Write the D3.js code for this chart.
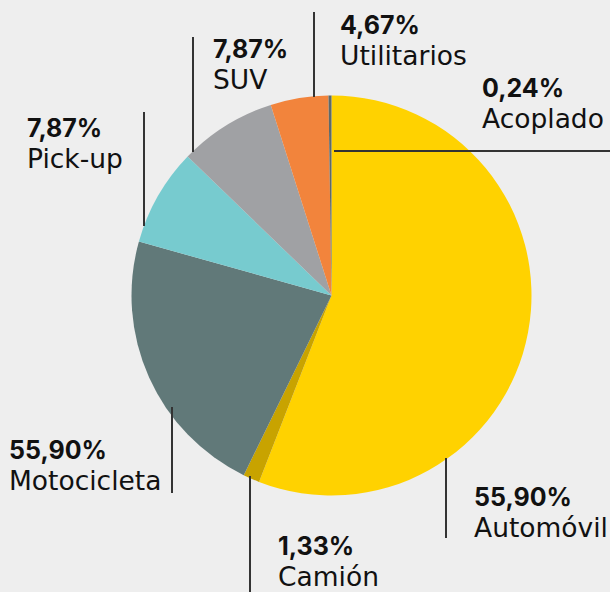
<!DOCTYPE html>
<html>
<head>
<meta charset="utf-8">
<script src="https://cdn.jsdelivr.net/npm/d3@7"></script>
<style>
  html, body { margin: 0; padding: 0; background: #eeeeee; }
  svg { display: block; }
  .pct { font-family: Inter, "Noto Sans", sans-serif; font-weight: 700; }
  .name { font-family: "DejaVu Sans", "Noto Sans", sans-serif; font-weight: 400; }
</style>
</head>
<body>
<svg id="chart" width="610" height="592"></svg>
<script>
// Vehicle categories, clockwise from 12 o'clock
const categories = ["Automóvil", "Camión", "Motocicleta", "Pick-up", "SUV", "Utilitarios", "Acoplado"];
const shares = [55.90, 1.33, 22.12, 7.87, 7.87, 4.67, 0.24];
const pctLabels = ["55,90%", "1,33%", "55,90%", "7,87%", "7,87%", "4,67%", "0,24%"];
const colors = ["#ffd200", "#c8a300", "#617979", "#77cbcf", "#a0a1a4", "#f2843c", "#5e6a6a"];

// Callout placement: leader line ends and text anchor (left x, first baseline)
const callouts = {
  "Automóvil":   { line: [[446, 458], [446, 538]], text: [474, 506] },
  "Camión":      { line: [[250, 476], [250, 592]], text: [278, 555] },
  "Motocicleta": { line: [[172, 407], [172, 493]], text: [9, 459] },
  "Pick-up":     { line: [[144, 112], [144, 226]], text: [27, 137] },
  "SUV":         { line: [[193, 37], [193, 152]], text: [213, 58] },
  "Utilitarios": { line: [[314, 12], [314, 97]], text: [340, 34] },
  "Acoplado":    { line: [[334, 151], [610, 151]], text: [482, 97] }
};

const cx = 331.5, cy = 295.5, radius = 200;
const svg = d3.select("#chart");

const data = categories.map((c, i) => ({ name: c, value: shares[i], label: pctLabels[i], color: colors[i] }));

const pie = d3.pie().sort(null).value(d => d.value).startAngle(0).endAngle(2 * Math.PI);
const arc = d3.arc().innerRadius(0).outerRadius(radius);

const g = svg.append("g").attr("transform", `translate(${cx},${cy})`);
g.selectAll("path.slice")
  .data(pie(data))
  .join("path")
  .attr("class", "slice")
  .attr("d", arc)
  .attr("fill", d => d.data.color);

// Leader lines
svg.append("g").selectAll("line")
  .data(data)
  .join("line")
  .attr("x1", d => callouts[d.name].line[0][0])
  .attr("y1", d => callouts[d.name].line[0][1])
  .attr("x2", d => callouts[d.name].line[1][0])
  .attr("y2", d => callouts[d.name].line[1][1])
  .attr("stroke", "#333333")
  .attr("stroke-width", 2);

// Labels: bold percentage over category name
const labels = svg.append("g").selectAll("g")
  .data(data)
  .join("g")
  .attr("transform", d => `translate(${callouts[d.name].text[0]},${callouts[d.name].text[1]})`);

labels.append("text")
  .attr("class", "pct")
  .attr("font-size", 25)
  .attr("fill", "#111111")
  .text(d => d.label);

labels.append("text")
  .attr("class", "name")
  .attr("y", 31)
  .attr("font-size", 26.5)
  .attr("fill", "#111111")
  .text(d => d.name);
</script>
</body>
</html>
